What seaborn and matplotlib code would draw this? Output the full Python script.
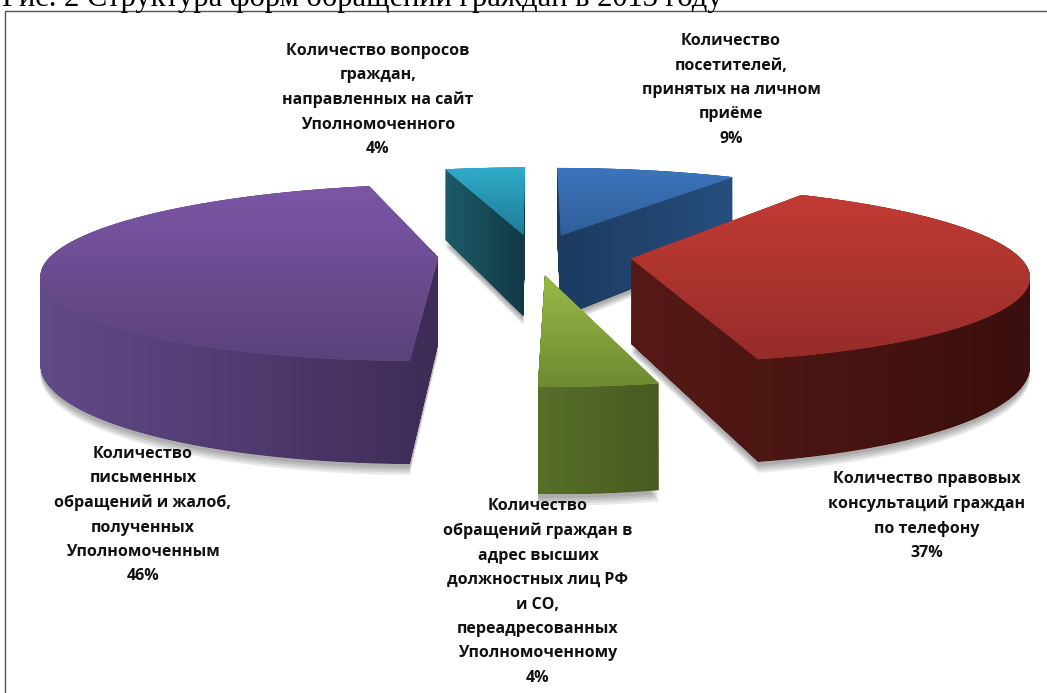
import numpy as np
import matplotlib
matplotlib.use("Agg")
import matplotlib.pyplot as plt
import seaborn as sns
from matplotlib.patches import PathPatch, Rectangle
from matplotlib.path import Path
from matplotlib.transforms import Affine2D, Transform

# slices clockwise from 12 o'clock (labels show them rounded)
shares = [9.0, 37.3, 4.0, 45.7, 4.0]
names = [
    "Количество\nпосетителей,\nпринятых на личном\nприёме\n9%",
    "Количество правовых\nконсультаций граждан\nпо телефону\n37%",
    "Количество\nобращений граждан в\nадрес высших\nдолжностных лиц РФ\nи СО,\nпереадресованных\nУполномоченному\n4%",
    "Количество\nписьменных\nобращений и жалоб,\nполученных\nУполномоченным\n46%",
    "Количество вопросов\nграждан,\nнаправленных на сайт\nУполномоченного\n4%",
]
label_x = [731, 927, 538, 143, 378]
label_y = [90, 516, 592, 515, 100]
top_colors = [
    ["#3b75bd", "#2f5f9a"],
    ["#c23b33", "#962c2a"],
    ["#97bb45", "#6f8a32"],
    ["#7b56a6", "#5a4279"],
    ["#30abcb", "#1f7c96"],
]
side_colors = [
    ["#1b3a60", "#274e7e"],
    ["#561a16", "#3a0f0d"],
    ["#586f2a", "#485a20"],
    ["#614a88", "#3e2c57"],
    ["#1d5a69", "#123944"],
]
pull_out = [0.25, 0.25, 0.23, 0.25, 0.25]
draw_order = [4, 0, 3, 1, 2]
title = "Рис. 2 Структура форм обращений граждан в 2013 году"

CX, CY = 535, 255
RX, RY = 387, 85
TILT = 0.17
DEPTH = 85


class Tilt(Transform):
    # flat pie coordinates -> picture pixels, far side smaller than near side
    input_dims = 2
    output_dims = 2
    is_separable = False
    has_inverse = False

    def __init__(self, drop=0):
        super().__init__()
        self.drop = drop

    def transform_non_affine(self, values):
        x, y = np.asarray(values).T
        s = 1 / (1 + TILT * y)
        return np.column_stack([CX + RX * x * s, CY - RY * y * s + self.drop * s])


def gradient(ax, clip, colors, vertical, z):
    cmap = sns.blend_palette(colors, as_cmap=True)
    ramp = np.linspace(0, 1, 256)
    ramp = ramp[:, None] if vertical else ramp[None, :]
    box = clip.get_extents()
    im = ax.imshow(ramp, cmap=cmap, aspect="auto", zorder=z,
                   extent=(box.x0, box.x1, box.y1, box.y0))
    im.set_clip_path(clip, ax.transData)


sns.set_theme(style="white")
fig = plt.figure(figsize=(10.47, 6.93), dpi=100)
ax = fig.add_axes([0, 0, 1, 1])

wedges, _ = ax.pie(shares, explode=pull_out, startangle=90,
                   counterclock=False, radius=1,
                   colors=[c[0] for c in top_colors],
                   wedgeprops={"linewidth": 0})

for rank, i in enumerate(draw_order):
    wedge = wedges[i]
    # flatten at a large scale, otherwise the arc comes out as a few straight pieces
    outline = wedge.get_path().to_polygons(Affine2D().scale(2000))[0] / 2000
    layers = [Path(Tilt(d).transform(outline)) for d in np.linspace(0, DEPTH, 150)]
    body = Path.make_compound_path(*layers)
    base = 10 + rank * 5

    # soft shadow under the slice
    for off in (9, 7, 5, 3):
        ax.add_patch(PathPatch(Path(Tilt(DEPTH + off).transform(outline)), fc="black",
                               ec="none", alpha=0.09, zorder=1))

    gradient(ax, body, side_colors[i], False, base)
    wedge.set_transform(Tilt() + ax.transData)
    wedge.set_zorder(base + 1)
    gradient(ax, layers[0], top_colors[i], True, base + 2)

ax.set_aspect("auto")
ax.set_xlim(0, 1047)
ax.set_ylim(693, 0)
ax.set_axis_off()

for text, x, y in zip(names, label_x, label_y):
    ax.text(x, y, text, ha="center", va="center", family="Open Sans", weight="bold",
            fontsize=11.5, color="#111111", linespacing=1.7, zorder=60)

# frame of the pasted picture and the caption cut off above it
ax.add_patch(Rectangle((5, 11), 1100, 800, fc="none", ec="#555555", lw=1, zorder=70))
ax.text(2, 6, title, family="Liberation Serif", fontsize=22, color="black",
        ha="left", va="baseline", zorder=70)

fig.savefig("out.png", dpi=100)
